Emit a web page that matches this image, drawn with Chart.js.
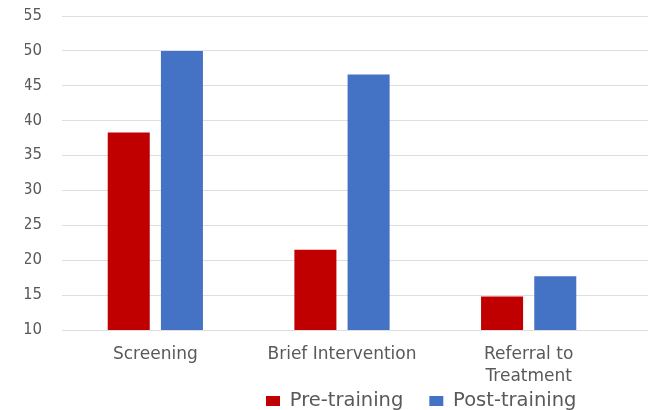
<!DOCTYPE html>
<html>
<head>
<meta charset="utf-8">
<script src="https://cdn.jsdelivr.net/npm/chart.js@4/dist/chart.umd.min.js"></script>
<style>
  html, body { margin: 0; padding: 0; background: #ffffff; }
  #wrap { width: 648px; height: 410px; }
</style>
</head>
<body>
<div id="wrap"><canvas id="c" width="648" height="410"></canvas></div>
<script>
// SBIRT skill scores before and after training
const categories = ['Screening', 'Brief Intervention', ['Referral to', 'Treatment']];
const preTraining = [38.3, 21.5, 14.8];
const postTraining = [50.0, 46.6, 17.7];
const seriesNames = ['Pre-training', 'Post-training'];
const yTicks = [10, 15, 20, 25, 30, 35, 40, 45, 50, 55];

const GRID = '#dedede';
const TEXT = '#595959';
const FONT = "'DejaVu Sans', sans-serif";

// Same pixel snapping Chart.js uses for its own grid lines
function snap(px, width) {
  const half = width / 2;
  return Math.round(px - half) + half;
}

// Horizontal gridlines run on to the right edge of the canvas
const gridRunOn = {
  id: 'gridRunOn',
  beforeDatasetsDraw(chart) {
    const { ctx, chartArea, scales } = chart;
    ctx.save();
    ctx.strokeStyle = GRID;
    ctx.lineWidth = 1;
    yTicks.forEach(v => {
      const y = snap(scales.y.getPixelForValue(v), 1);
      ctx.beginPath();
      ctx.moveTo(chartArea.right, y);
      ctx.lineTo(chart.width, y);
      ctx.stroke();
    });
    ctx.restore();
  }
};

// Legend row: compact strip under the category labels, wide item spacing
const legendPlacement = {
  id: 'legendPlacement',
  beforeLayout(chart) {
    const lg = chart.legend;
    if (lg && !lg._compactFit) {
      const fit = lg.fit;
      lg.fit = function () { fit.call(this); this.height = 25.5; };
      lg._compactFit = true;
    }
  },
  afterLayout(chart) {
    // let the two-line category labels draw past the axis box
    const x = chart.scales.x;
    x.bottom = chart.height;
    x.height = x.bottom - x.top;

    const lg = chart.legend;
    if (!lg || !lg.lineWidths) return;
    const pad = lg.options.labels.padding;
    const fontSize = lg.options.labels.font.size;
    const start = (lg.left + pad + lg.right - lg.lineWidths[0]) / 2;
    const dx = 266 - start;
    lg.left += dx;
    lg.right += dx;
    lg.top = 401 - pad - fontSize / 2;
    lg.bottom = chart.height;
    lg.width = lg.right - lg.left;
    lg.height = lg.bottom - lg.top;
  }
};

new Chart(document.getElementById('c'), {
  type: 'bar',
  data: {
    labels: categories,
    datasets: [
      { label: seriesNames[0], data: preTraining, backgroundColor: '#C00000' },
      { label: seriesNames[1], data: postTraining, backgroundColor: '#4472C4' }
    ]
  },
  options: {
    responsive: false,
    animation: false,
    devicePixelRatio: 1,
    layout: { padding: { left: 25, right: 26, top: 16, bottom: 0 } },
    datasets: { bar: { categoryPercentage: 0.57, barPercentage: 0.79 } },
    scales: {
      x: {
        clip: false,
        grid: { display: false },
        border: { display: true, color: GRID },
        ticks: {
          color: TEXT,
          font: { family: FONT, size: 17, lineHeight: 1.28 },
          padding: 6,
          maxRotation: 0,
          autoSkip: false
        },
        afterFit(scale) {
          scale.height = 54.5;
          scale.paddingLeft = 0;
          scale.paddingRight = 0;
        }
      },
      y: {
        min: 10,
        max: 55,
        afterBuildTicks(scale) { scale.ticks = yTicks.map(v => ({ value: v })); },
        grid: { color: GRID, drawTicks: false },
        border: { display: false },
        ticks: {
          color: TEXT,
          font: { family: FONT, size: 15 },
          padding: 20
        },
        afterFit(scale) {
          scale.width = 37;
          scale.paddingTop = 0;
          scale.paddingBottom = 0;
        }
      }
    },
    plugins: {
      legend: {
        position: 'bottom',
        labels: {
          color: TEXT,
          font: { family: FONT, size: 19.5 },
          boxWidth: 14,
          boxHeight: 10,
          padding: 26
        }
      },
      tooltip: { enabled: false }
    }
  },
  plugins: [gridRunOn, legendPlacement]
});
</script>
</body>
</html>
